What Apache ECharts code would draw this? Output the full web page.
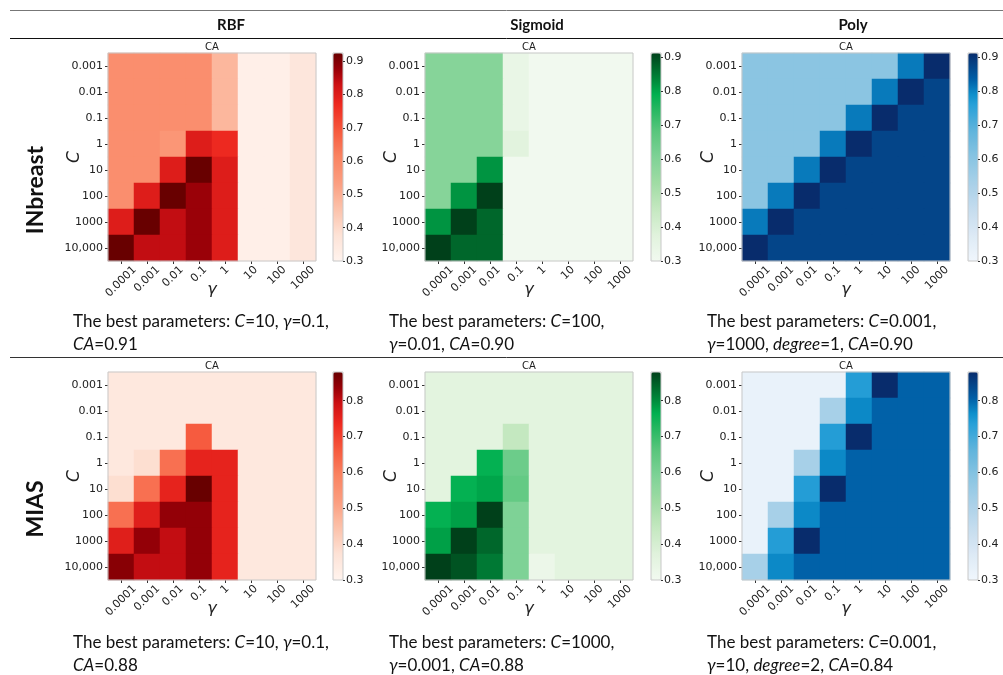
<!DOCTYPE html>
<html><head><meta charset="utf-8">
<script src="https://cdn.jsdelivr.net/npm/echarts@6/dist/echarts.min.js"></script>
<style>html,body{margin:0;padding:0;background:#fff}#c{width:1003px;height:675px}</style>
</head><body><div id="c"></div>
<script>
// ---------- data ----------
const gammaLabels = ['0.0001','0.001','0.01','0.1','1','10','100','1000'];
const cLabels = ['0.001','0.01','0.1','1','10','100','1000','10,000'];
const kernels = ['RBF','Sigmoid','Poly'];
const datasets = ['INbreast','MIAS'];
const cbTicks = [0.3,0.4,0.5,0.6,0.7,0.8,0.9];

// rows: C = 0.001 ... 10,000 (top to bottom); columns: gamma = 0.0001 ... 1000
const rbfINbreast = [
  [0.58,0.58,0.58,0.58,0.48,0.32,0.32,0.36],
  [0.58,0.58,0.58,0.58,0.48,0.32,0.32,0.36],
  [0.58,0.58,0.58,0.58,0.48,0.32,0.32,0.36],
  [0.58,0.58,0.56,0.80,0.77,0.32,0.32,0.36],
  [0.58,0.58,0.80,0.925,0.80,0.32,0.32,0.36],
  [0.58,0.80,0.925,0.875,0.80,0.32,0.32,0.36],
  [0.80,0.925,0.84,0.875,0.80,0.32,0.32,0.36],
  [0.925,0.84,0.84,0.875,0.80,0.32,0.32,0.36]
];
const sigmoidINbreast = [
  [0.59,0.59,0.59,0.34,0.305,0.305,0.305,0.305],
  [0.59,0.59,0.59,0.34,0.305,0.305,0.305,0.305],
  [0.59,0.59,0.59,0.34,0.305,0.305,0.305,0.305],
  [0.59,0.59,0.59,0.37,0.305,0.305,0.305,0.305],
  [0.59,0.59,0.82,0.305,0.305,0.305,0.305,0.305],
  [0.59,0.82,0.913,0.305,0.305,0.305,0.305,0.305],
  [0.82,0.913,0.87,0.305,0.305,0.305,0.305,0.305],
  [0.913,0.87,0.87,0.305,0.305,0.305,0.305,0.305]
];
const polyINbreast = [
  [0.60,0.60,0.60,0.60,0.60,0.60,0.81,0.913],
  [0.60,0.60,0.60,0.60,0.60,0.81,0.913,0.875],
  [0.60,0.60,0.60,0.60,0.81,0.913,0.875,0.875],
  [0.60,0.60,0.60,0.81,0.913,0.875,0.875,0.875],
  [0.60,0.60,0.81,0.913,0.875,0.875,0.875,0.875],
  [0.60,0.81,0.913,0.875,0.875,0.875,0.875,0.875],
  [0.81,0.913,0.875,0.875,0.875,0.875,0.875,0.875],
  [0.913,0.875,0.875,0.875,0.875,0.875,0.875,0.875]
];
const rbfMIAS = [
  [0.35,0.35,0.35,0.35,0.35,0.35,0.35,0.35],
  [0.35,0.35,0.35,0.35,0.35,0.35,0.35,0.35],
  [0.35,0.35,0.35,0.66,0.35,0.35,0.35,0.35],
  [0.35,0.38,0.625,0.75,0.75,0.35,0.35,0.35],
  [0.38,0.625,0.75,0.88,0.75,0.35,0.35,0.35],
  [0.625,0.76,0.84,0.84,0.75,0.35,0.35,0.35],
  [0.76,0.84,0.80,0.84,0.75,0.35,0.35,0.35],
  [0.85,0.80,0.80,0.84,0.75,0.35,0.35,0.35]
];
const sigmoidMIAS = [
  [0.36,0.36,0.36,0.36,0.36,0.36,0.36,0.36],
  [0.36,0.36,0.36,0.36,0.36,0.36,0.36,0.36],
  [0.36,0.36,0.36,0.445,0.36,0.36,0.36,0.36],
  [0.36,0.36,0.76,0.625,0.36,0.36,0.36,0.36],
  [0.36,0.76,0.775,0.64,0.36,0.36,0.36,0.36],
  [0.76,0.78,0.88,0.59,0.36,0.36,0.36,0.36],
  [0.78,0.88,0.84,0.59,0.36,0.36,0.36,0.36],
  [0.88,0.86,0.82,0.59,0.325,0.36,0.36,0.36]
];
const polyMIAS = [
  [0.325,0.325,0.325,0.325,0.74,0.88,0.805,0.805],
  [0.325,0.325,0.325,0.52,0.77,0.805,0.805,0.805],
  [0.325,0.325,0.325,0.74,0.88,0.805,0.805,0.805],
  [0.325,0.325,0.52,0.77,0.805,0.805,0.805,0.805],
  [0.325,0.325,0.74,0.88,0.805,0.805,0.805,0.805],
  [0.325,0.52,0.77,0.805,0.805,0.805,0.805,0.805],
  [0.325,0.74,0.88,0.805,0.805,0.805,0.805,0.805],
  [0.52,0.77,0.805,0.805,0.805,0.805,0.805,0.805]
];
const panels = [
  [rbfINbreast, sigmoidINbreast, polyINbreast],
  [rbfMIAS, sigmoidMIAS, polyMIAS]
];
const bestText = [
  [['The best parameters: {i|C}=10, {i|γ}=0.1,','{i|CA}=0.91'],
   ['The best parameters: {i|C}=100,','{i|γ}=0.01, {i|CA}=0.90'],
   ['The best parameters: {i|C}=0.001,','{i|γ}=1000, {i|degree}=1, {i|CA}=0.90']],
  [['The best parameters: {i|C}=10, {i|γ}=0.1,','{i|CA}=0.88'],
   ['The best parameters: {i|C}=1000,','{i|γ}=0.001, {i|CA}=0.88'],
   ['The best parameters: {i|C}=0.001,','{i|γ}=10, {i|degree}=2, {i|CA}=0.84']]
];

// ---------- colormaps (stops over normalized 0..1) ----------
const cmaps = [
  [[0,'#fff4ee'],[0.125,'#fde2d6'],[0.25,'#fcc2aa'],[0.375,'#fb9e80'],[0.5,'#fa8462'],[0.625,'#f65a3e'],[0.75,'#ee2a20'],[0.85,'#cc1014'],[0.92,'#9a0008'],[1,'#680000']],
  [[0,'#f2faf0'],[0.125,'#e0f2dc'],[0.25,'#c4e8c0'],[0.375,'#a0dca4'],[0.5,'#7ed296'],[0.625,'#58c67c'],[0.75,'#1cb45c'],[0.8,'#00b050'],[0.87,'#00883a'],[1,'#00401a']],
  [[0,'#f0f6fc'],[0.125,'#dce9f5'],[0.25,'#c4dcee'],[0.375,'#a8d0e8'],[0.5,'#88c4e2'],[0.625,'#60b4dc'],[0.75,'#28a0d8'],[0.8,'#0e90cc'],[0.87,'#0060a8'],[1,'#082c6c']]
];
function hex2rgb(h){return [parseInt(h.slice(1,3),16),parseInt(h.slice(3,5),16),parseInt(h.slice(5,7),16)];}
function sample(stops,t){
  for(let i=1;i<stops.length;i++){
    if(t<=stops[i][0]){
      const a=stops[i-1],b=stops[i];const f=(t-a[0])/(b[0]-a[0]);
      const ca=hex2rgb(a[1]),cb=hex2rgb(b[1]);
      return 'rgb('+ca.map((v,k)=>Math.round(v+(cb[k]-v)*f)).join(',')+')';
    }
  }
  return stops[stops.length-1][1];
}
function palette(stops){const out=[];for(let i=0;i<=40;i++)out.push(sample(stops,i/40));return out;}

// rotated x labels centred under the tick (matplotlib style): per-label padding
const AX_FONT = '11px "DejaVu Sans"';
const mctx = document.createElement('canvas').getContext('2d');
mctx.font = AX_FONT;
const xRich = {};
gammaLabels.forEach((lab,i)=>{
  const L = mctx.measureText(lab).width;
  xRich['g'+i] = {fontSize:11,fontFamily:'DejaVu Sans',color:'#222',padding:[L*0.5,L*0.5,0,0]};
});

// ---------- layout ----------
const colLeft = [108,425,742];
const cbLeft = [333,651,968];
const rowTop = [53,372];
const size = 208;
const vmin = 0.3;

const grids=[],xAxes=[],yAxes=[],series=[],visualMaps=[],titles=[];
let gi=0;
for(let r=0;r<2;r++){
  for(let c=0;c<3;c++){
    const mat = panels[r][c];
    const data=[];
    mat.forEach((row,yi)=>row.forEach((v,xi)=>data.push([xi,yi,v])));
    const vmax = Math.max(...mat.flat());
    grids.push({left:colLeft[c],top:rowTop[r],width:size,height:size,show:true,borderColor:'#c8c8c8',borderWidth:1,backgroundColor:'transparent',z:3});
    xAxes.push({type:'category',gridIndex:gi,data:gammaLabels,
      axisLine:{show:false},axisTick:{show:true,alignWithLabel:true,length:3,lineStyle:{color:'#333'}},
      axisLabel:{rotate:45,align:'center',verticalAlign:'middle',margin:7,interval:0,
        formatter:(v,idx)=>'{g'+idx+'|'+v+'}',rich:xRich},
      splitLine:{show:false},
      name:'γ',nameLocation:'middle',nameGap:21,nameMoveOverlap:false,
      nameTextStyle:{fontSize:16,fontStyle:'italic',fontFamily:'DejaVu Sans',color:'#222'}});
    yAxes.push({type:'category',gridIndex:gi,data:cLabels,inverse:true,
      axisLine:{show:false},axisTick:{show:true,alignWithLabel:true,length:3,lineStyle:{color:'#333'}},
      axisLabel:{fontSize:11,fontFamily:'DejaVu Sans',color:'#222',margin:5,interval:0},
      splitLine:{show:false},
      name:'C',nameLocation:'middle',nameGap:25,nameRotate:90,nameMoveOverlap:false,
      nameTextStyle:{fontSize:17,fontStyle:'italic',fontFamily:'DejaVu Sans',color:'#222'}});
    series.push({type:'heatmap',xAxisIndex:gi,yAxisIndex:gi,data:data,itemStyle:{borderWidth:0},emphasis:{disabled:true},progressive:0});
    const seriesIdx = series.length-1;
    gi++;
    grids.push({left:cbLeft[c],top:rowTop[r],width:10,height:size,show:true,borderColor:'#c8c8c8',borderWidth:1,backgroundColor:'transparent',z:6});
    xAxes.push({type:'category',gridIndex:gi,data:[''],show:false});
    yAxes.push({type:'value',gridIndex:gi,min:vmin,max:vmax,interval:0.1,position:'right',z:6,
      axisLine:{show:false},axisTick:{show:true,length:2,lineStyle:{color:'#333'}},
      splitLine:{show:false},
      axisLabel:{fontSize:11,fontFamily:'DejaVu Sans',color:'#222',margin:3,showMaxLabel:false,
        formatter:v=>{const t=cbTicks.find(x=>Math.abs(x-v)<1e-6);return t===undefined?'':t.toFixed(1);}}});
    series.push({type:'scatter',xAxisIndex:gi,yAxisIndex:gi,data:[],silent:true});
    gi++;
    visualMaps.push({type:'continuous',seriesIndex:seriesIdx,dimension:2,min:vmin,max:vmax,
      left:cbLeft[c],top:rowTop[r],itemWidth:10,itemHeight:size,padding:0,calculable:false,
      text:null,showLabel:false,hoverLink:false,inRange:{color:palette(cmaps[c])}});
    titles.push({type:'text',x:colLeft[c]+size/2,y:rowTop[r]-1,
      style:{text:'CA',font:'10px "DejaVu Sans"',fill:'#222',align:'center',verticalAlign:'bottom'}});
  }
}

// table graphics
const g=[...titles];
g.push({type:'line',shape:{x1:10,y1:10.5,x2:1003,y2:10.5},style:{stroke:'#777',lineWidth:1}});
g.push({type:'line',shape:{x1:10,y1:38.5,x2:1003,y2:38.5},style:{stroke:'#111',lineWidth:1}});
g.push({type:'line',shape:{x1:10,y1:357.5,x2:1003,y2:357.5},style:{stroke:'#333',lineWidth:1}});
const headX=[231,537,853];
kernels.forEach((k,i)=>g.push({type:'text',x:headX[i],y:25,style:{text:k,font:'bold 15px Lato',fill:'#111',align:'center',verticalAlign:'middle'}}));
const rowLabY=[190,509];
datasets.forEach((d,i)=>g.push({type:'text',x:36,y:rowLabY[i],rotation:Math.PI/2,style:{text:d,font:'bold 23px Lato',fill:'#111',align:'center',verticalAlign:'middle'}}));
const textX=[73,389,707];
const textY=[[322,345],[643,666]];
for(let r=0;r<2;r++)for(let c=0;c<3;c++){
  bestText[r][c].forEach((line,li)=>g.push({type:'text',x:textX[c],y:textY[r][li],
    style:{text:line,font:'17px Lato',fill:'#111',align:'left',verticalAlign:'middle',
      rich:{i:{fontStyle:'italic',font:'italic 17px Lato',fill:'#111'}}}}));
}

const chart=echarts.init(document.getElementById('c'),null,{renderer:'canvas'});
chart.setOption({animation:false,backgroundColor:'#fff',grid:grids,xAxis:xAxes,yAxis:yAxes,series:series,visualMap:visualMaps,graphic:g});
</script></body></html>
